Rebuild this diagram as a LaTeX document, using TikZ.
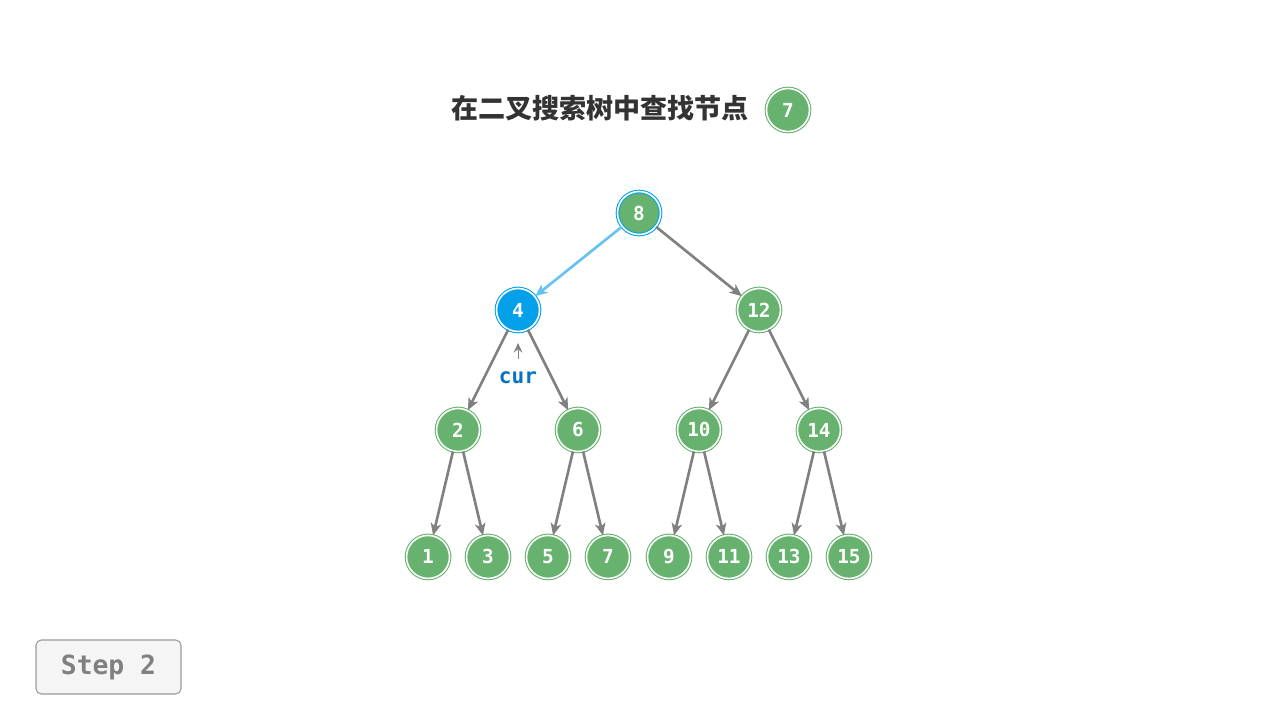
\documentclass[tikz,border=0pt]{standalone}
\usepackage{fontspec}
\setmonofont{DejaVu Sans Mono}
\newfontfamily\cjkfont{Noto Sans CJK SC}
\usetikzlibrary{positioning,arrows.meta}
\definecolor{treegreen}{HTML}{66B26E}
\definecolor{visitblue}{HTML}{04A1EA}
\definecolor{edgeblue}{HTML}{66C2F2}
\definecolor{curblue}{HTML}{0A72C2}
\definecolor{edgegray}{HTML}{808080}
\tikzset{
    on grid,
    auto,
    tnode/.style = {
        shape=circle,
        fill=treegreen,
        draw=treegreen,
        double=white,
        double distance=0.9pt,
        line width=0.6pt,
        minimum size=0.86cm,
        inner sep=0pt,
        text=white,
        font=\ttfamily\bfseries\fontsize{11}{13}\selectfont
    },
    visited/.style = {
        draw=visitblue
    },
    current/.style = {
        fill=visitblue,
        draw=visitblue
    },
    edge/.style = {
        draw=edgegray,
        line width=1.5pt
    },
    stepbox/.style = {
        draw=edgegray!80,
        fill=black!4,
        rounded corners=3pt,
        line width=0.6pt,
        minimum width=2.9cm,
        minimum height=1.08cm,
        text=edgegray,
        font=\ttfamily\bfseries\fontsize{15}{17}\selectfont
    },
    >={Stealth[length=7pt,width=6pt,inset=2pt]},
}

\begin{document}
\begin{tikzpicture}[x=0.02cm, y=-0.02cm]
    \useasboundingbox (0,0) rectangle (1280,720);

    % title
    \node[font=\cjkfont\bfseries\fontsize{15.4}{18}\selectfont, text=black!80] (title) at (600,108) {在二叉搜索树中查找节点};
    \node[tnode] (target) at (788,110) {7};

    % tree
    \node[tnode, visited] (n8) at (639,213) {8};
    \node[tnode, current, below left=1.94cm and 2.42cm of n8] (n4) {4};
    \node[tnode, below right=1.94cm and 2.4cm of n8] (n12) {12};

    \node[tnode, below left=2.4cm and 1.2cm of n4] (n2) {2};
    \node[tnode, below right=2.4cm and 1.2cm of n4] (n6) {6};
    \node[tnode, below left=2.4cm and 1.2cm of n12] (n10) {10};
    \node[tnode, below right=2.4cm and 1.2cm of n12] (n14) {14};

    \node[tnode, below left=2.54cm and 0.6cm of n2] (n1) {1};
    \node[tnode, below right=2.54cm and 0.6cm of n2] (n3) {3};
    \node[tnode, below left=2.54cm and 0.6cm of n6] (n5) {5};
    \node[tnode, below right=2.54cm and 0.6cm of n6] (n7) {7};
    \node[tnode, below left=2.54cm and 0.6cm of n10] (n9) {9};
    \node[tnode, below right=2.54cm and 0.6cm of n10] (n11) {11};
    \node[tnode, below left=2.54cm and 0.6cm of n14] (n13) {13};
    \node[tnode, below right=2.54cm and 0.6cm of n14] (n15) {15};

    \path[edge, draw=edgeblue, ->] (n8) -- (n4);
    \path[edge, ->] (n8) -- (n12);
    \path[edge, ->] (n4) -- (n2);
    \path[edge, ->] (n4) -- (n6);
    \path[edge, ->] (n12) -- (n10);
    \path[edge, ->] (n12) -- (n14);
    \path[edge, ->] (n2) -- (n1);
    \path[edge, ->] (n2) -- (n3);
    \path[edge, ->] (n6) -- (n5);
    \path[edge, ->] (n6) -- (n7);
    \path[edge, ->] (n10) -- (n9);
    \path[edge, ->] (n10) -- (n11);
    \path[edge, ->] (n14) -- (n13);
    \path[edge, ->] (n14) -- (n15);

    % pointer
    \node[below=1.36cm of n4, text=curblue, font=\ttfamily\bfseries\fontsize{12}{14}\selectfont] (cur) {cur};
    \path[draw=edgegray, line width=0.6pt, -{Stealth[length=5.5pt,width=5pt,inset=2pt]}, shorten >=0.22cm, shorten <=0.14cm] (cur.north) -- (n4);

    \node[stepbox] (step) at (108.5,667) {Step 2};
\end{tikzpicture}
\end{document}
